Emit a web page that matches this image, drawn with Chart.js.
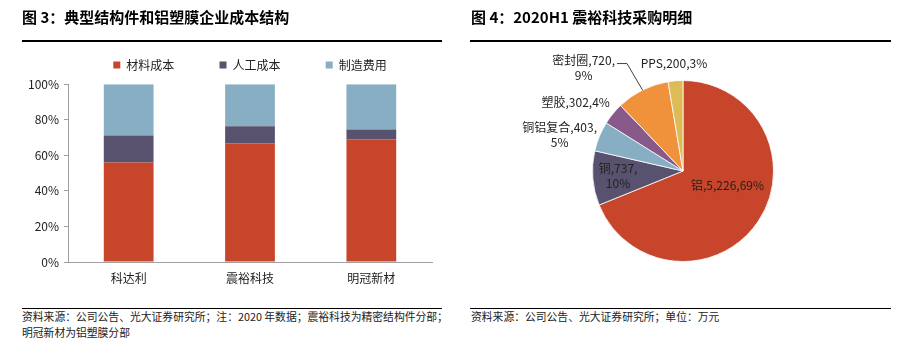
<!DOCTYPE html>
<html>
<head>
<meta charset="utf-8">
<script src="https://cdn.jsdelivr.net/npm/chart.js@4.4.1/dist/chart.umd.min.js"></script>
<style>
body { margin: 0; width: 909px; height: 351px; background: #fff; position: relative; overflow: hidden; font-family: "Noto Sans CJK SC", sans-serif; }
.titre { position: absolute; top: 6px; font-size: 15px; font-weight: bold; color: #000; line-height: 22px; white-space: nowrap; z-index: 2; }
.trait { position: absolute; background: #000; z-index: 2; }
.source { position: absolute; font-size: 10.8px; color: #222; line-height: 16px; white-space: nowrap; z-index: 2; }
.zone { position: absolute; }
</style>
</head>
<body>
<div class="titre" style="left:22px">图 3：典型结构件和铝塑膜企业成本结构</div>
<div class="titre" style="left:471px">图 4：2020H1 震裕科技采购明细</div>
<div class="trait" style="left:22px;top:40px;width:420px;height:2px"></div>
<div class="trait" style="left:470px;top:40px;width:421px;height:2px"></div>

<div class="zone" style="left:0;top:0;width:460px;height:290px"><canvas id="barChart"></canvas></div>
<div class="zone" style="left:460px;top:40px;width:449px;height:250px"><canvas id="pieChart"></canvas></div>

<div class="trait" style="left:22px;top:308px;width:420px;height:1px"></div>
<div class="trait" style="left:470px;top:308px;width:421px;height:1px"></div>
<div class="source" style="left:22px;top:308px">资料来源：公司公告、光大证券研究所；注：2020 年数据；震裕科技为精密结构件分部；<br>明冠新材为铝塑膜分部</div>
<div class="source" style="left:471px;top:308px">资料来源：公司公告、光大证券研究所；单位：万元</div>

<script>
// données du graphique de gauche (en %)
let categories = ['科达利', '震裕科技', '明冠新材'];
let series_noms = ['材料成本', '人工成本', '制造费用'];
let cout_matiere = [56, 66.7, 68.9];
let cout_main_oeuvre = [15.2, 9.7, 5.6];
let frais_fabrication = [28.8, 23.6, 25.5];
let graduations_y = [0, 20, 40, 60, 80, 100];

// données du camembert (万元)
let postes = ['铝', '铜', '铜铝复合', '塑胶', '密封圈', 'PPS'];
let montants = [5226, 737, 403, 302, 720, 200];
let parts = [69, 10, 5, 4, 9, 3];

let couleurs_barres = ['#c7452a', '#58526f', '#87aec2'];
let couleurs_pie = ['#c7452a', '#58526f', '#87aec2', '#875a8a', '#f0913c', '#ddbb56'];

// placement des étiquettes du camembert, relatif au point de l'arc
let style_etiquettes = [
    {r: 0.5, dx: 7, dy: -11, cote: 'center', coupe: false},
    {r: 0.72, dx: 0, dy: 0, cote: 'center', coupe: true},
    {r: 1, dx: -2.4, dy: -1, cote: 'right', coupe: true},
    {r: 1, dx: -3, dy: -11, cote: 'right', coupe: false},
    {r: 1, dx: -27.5, dy: -22, cote: 'right', coupe: true, guide: true},
    {r: 1, dx: -1.6, dy: -17, cote: 'center', coupe: false}
];

Chart.defaults.font.family = '"Noto Sans CJK SC", sans-serif';
Chart.defaults.font.size = 12;
Chart.defaults.color = '#222';
Chart.defaults.animation = false;

function format_montant(v) {
    return v.toLocaleString('en-US');
}

let bar_chart = new Chart(document.getElementById('barChart'), {
    type: 'bar',
    data: {
        labels: categories,
        datasets: [cout_matiere, cout_main_oeuvre, frais_fabrication].map((valeurs, i) => {
            return {
                label: series_noms[i],
                data: valeurs,
                backgroundColor: couleurs_barres[i],
                borderWidth: 0,
                categoryPercentage: 1,
                barPercentage: 0.41
            };
        })
    },
    options: {
        responsive: true,
        maintainAspectRatio: false,
        devicePixelRatio: 1,
        layout: { padding: { top: 13.8, left: 0, right: 28, bottom: 0 } },
        plugins: {
            legend: {
                position: 'top',
                fullSize: false,
                labels: { boxWidth: 7, boxHeight: 7, padding: 45.2, color: '#222', font: { size: 12 } }
            },
            title: {
                display: true,
                text: '',
                fullSize: false,
                weight: 500,
                font: { size: 1 },
                padding: { top: 0, bottom: 2 }
            },
            tooltip: { enabled: false }
        },
        scales: {
            x: {
                stacked: true,
                grid: { display: false, drawTicks: false },
                border: { color: '#a0a0a0' },
                ticks: { padding: 9, color: '#222' },
                afterFit: (scale) => { scale.height = 28; }
            },
            y: {
                stacked: true,
                min: 0,
                max: 100,
                afterBuildTicks: (scale) => { scale.ticks = graduations_y.map((v) => ({ value: v })); },
                ticks: { padding: 5, color: '#222', callback: (v) => v + '%' },
                grid: { drawOnChartArea: false, tickLength: 4, color: '#a0a0a0' },
                border: { color: '#a0a0a0' },
                afterFit: (scale) => { scale.width = 68; }
            }
        }
    }
});

let etiquettes_pie = {
    id: 'etiquettes_pie',
    afterDatasetsDraw(chart) {
        const ctx = chart.ctx;
        const arcs = chart.getDatasetMeta(0).data;
        ctx.save();
        ctx.font = '12px "Noto Sans CJK SC"';
        ctx.fillStyle = '#222';
        ctx.textBaseline = 'middle';
        ctx.textAlign = 'center';
        arcs.forEach((arc, i) => {
            const p = arc.getProps(['x', 'y', 'startAngle', 'endAngle', 'outerRadius'], true);
            const st = style_etiquettes[i];
            const milieu = (p.startAngle + p.endAngle) / 2;
            const ax = p.x + Math.cos(milieu) * p.outerRadius * st.r;
            const ay = p.y + Math.sin(milieu) * p.outerRadius * st.r;
            const debut = postes[i] + ',' + format_montant(montants[i]) + ',';
            const lignes = st.coupe ? [debut, parts[i] + '%'] : [debut + parts[i] + '%'];
            const largeur = Math.max(...lignes.map((l) => ctx.measureText(l).width));
            let cx = ax + st.dx;
            if (st.cote === 'right') {
                cx = ax + st.dx - largeur / 2;
            }
            const cy = ay + st.dy;
            const pas = 15;
            lignes.forEach((l, k) => {
                ctx.fillText(l, cx, cy + (k - (lignes.length - 1) / 2) * pas);
            });
            if (st.guide) {
                const droite = cx + largeur / 2;
                const yl = cy - (lignes.length - 1) / 2 * pas + 3;
                ctx.strokeStyle = '#404040';
                ctx.lineWidth = 1;
                ctx.beginPath();
                ctx.moveTo(ax, ay);
                ctx.lineTo(droite + 12, yl);
                ctx.lineTo(droite + 2, yl);
                ctx.stroke();
            }
        });
        ctx.restore();
    }
};

let pie_chart = new Chart(document.getElementById('pieChart'), {
    type: 'pie',
    data: {
        labels: postes,
        datasets: [{
            data: montants,
            backgroundColor: couleurs_pie,
            borderColor: '#ffffff',
            borderWidth: 0.8,
            radius: 90.5
        }]
    },
    options: {
        responsive: true,
        maintainAspectRatio: false,
        devicePixelRatio: 1,
        layout: { padding: { top: 12, left: 40, right: 43, bottom: 0 } },
        plugins: {
            legend: { display: false },
            tooltip: { enabled: false }
        }
    },
    plugins: [etiquettes_pie]
});
</script>
</body>
</html>
